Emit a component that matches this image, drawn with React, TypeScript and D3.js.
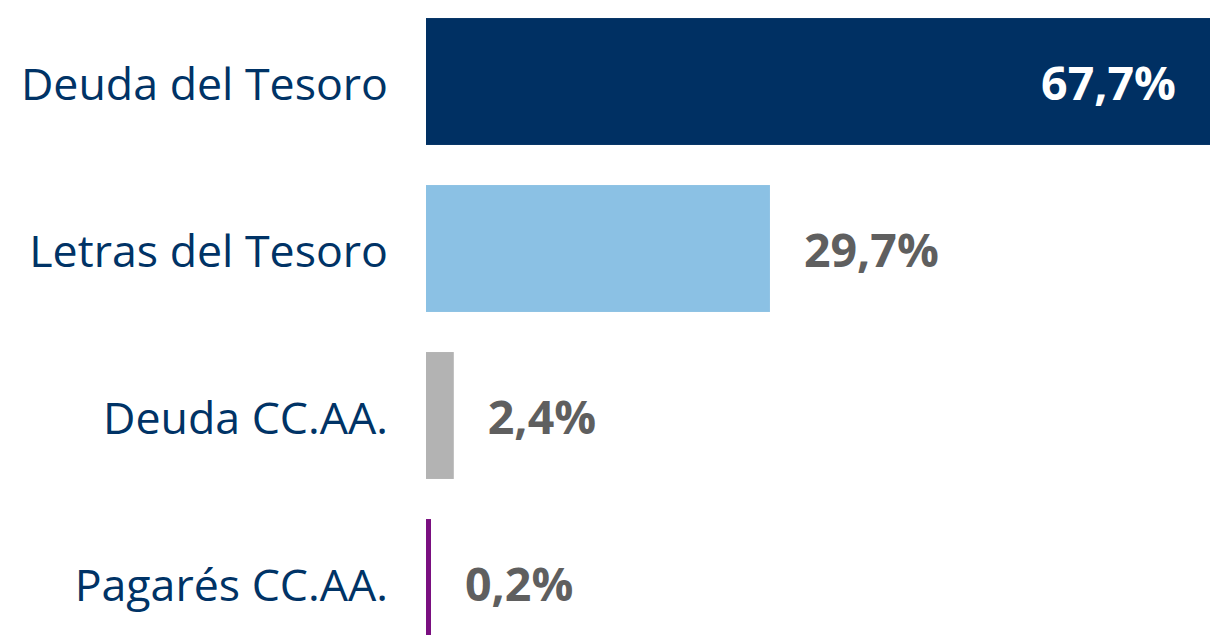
import React from "react";
import * as d3 from "d3";

const categories = ["Deuda del Tesoro", "Letras del Tesoro", "Deuda CC.AA.", "Pagarés CC.AA."];
const values = [67.7, 29.7, 2.4, 0.2];
const colors = ["#003063", "#8bc1e4", "#b3b3b3", "#7a0f80"];
const valueLabels = ["67,7%", "29,7%", "2,4%", "0,2%"];

const W = 1219;
const H = 635;

export default function App() {
  const x = d3.scaleLinear().domain([0, 67.7]).range([426, 1210]);
  const y = d3
    .scaleBand<string>()
    .domain(categories)
    .range([-2, 666])
    .paddingInner(0.24)
    .paddingOuter(0.12);
  const font = "'Open Sans', 'Noto Sans', sans-serif";
  return (
    <svg
      width={W}
      height={H}
      style={{ position: "absolute", left: 0, top: 0, background: "#fff" }}
    >
      {categories.map((c, i) => {
        const y0 = y(c)!;
        const bw = y.bandwidth();
        const w = Math.max(x(values[i]) - x(0), 5);
        const cy = y0 + bw / 2;
        const inside = i === 0;
        return (
          <g key={c}>
            <rect x={x(0)} y={y0} width={w} height={bw} fill={colors[i]} />
            <text
              x={388}
              y={cy}
              dy="0.42em"
              textAnchor="end"
              fontFamily={font}
              fontSize={44.7}
              fill="#003366"
            >
              {c}
            </text>
            <text
              x={inside ? x(values[i]) - 34 : x(0) + w + 34}
              y={cy}
              dy="0.4em"
              textAnchor={inside ? "end" : "start"}
              fontFamily={font}
              fontWeight="bold"
              fontSize={46.5}
              fill={inside ? "#ffffff" : "#5f5f5f"}
            >
              {valueLabels[i]}
            </text>
          </g>
        );
      })}
    </svg>
  );
}
